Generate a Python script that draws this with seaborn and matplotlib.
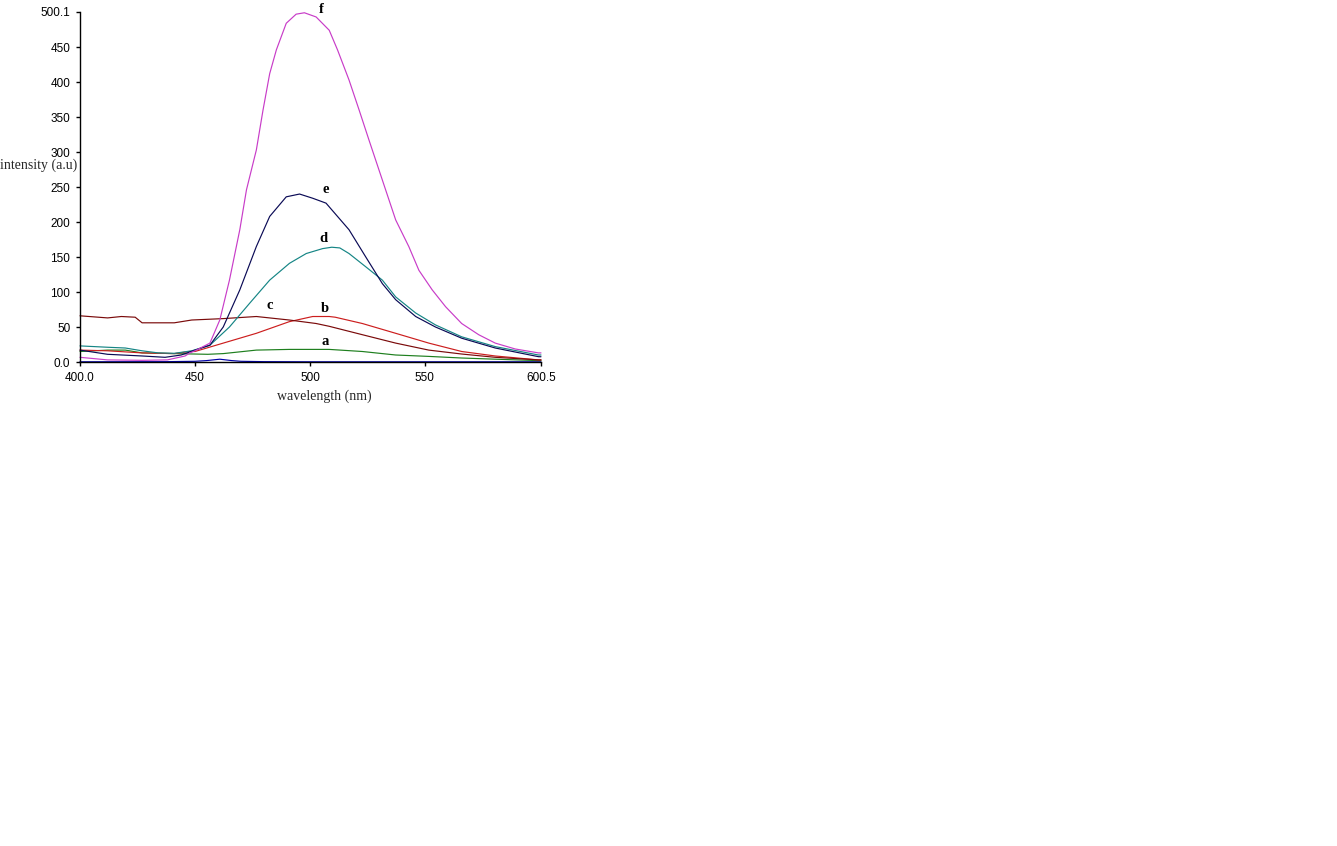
import numpy as np
import pandas as pd
import matplotlib
matplotlib.use("Agg")
import matplotlib.pyplot as plt
import seaborn as sns

# ==========================================
# Spectra (wavelength nm, intensity a.u)
# ==========================================

wl_f = [400, 412, 427, 438, 445.7, 447.8, 450, 456.5, 460.8, 465, 469.5, 472.4, 476.7,
        479.6, 482.5, 485.4, 489.7, 494, 497.6, 502.7, 508.4, 512, 517, 521.4, 525.7,
        531.5, 537.3, 543, 547.4, 553.2, 559, 566, 573.4, 580.6, 589.3, 599.4, 600.5]
int_f = [6.7, 3, 2.4, 3, 8.6, 13, 16, 27, 60, 117, 189, 246, 303,
         360, 412, 446, 484, 497, 499, 493, 474, 446, 403, 360, 317,
         260, 203, 165, 131, 103, 79, 55, 39, 27, 18.6, 13, 13]

wl_e = [400, 412, 427, 437, 444, 450, 456.5, 462.3, 469.5, 476.7, 482.5, 489.7, 495.5,
        501.2, 507, 512, 517, 524.3, 531.5, 537.3, 546, 554.6, 566, 580.6, 599.4, 600.5]
int_e = [17, 11, 8.6, 6.7, 10, 17, 24, 50, 103, 165, 208, 236, 240,
         234, 227, 208, 189, 150, 112, 89, 65, 50, 34, 20, 7.6, 7.5]

wl_d = [400, 412.5, 419.7, 427, 434, 441, 448.6, 456.5, 465, 473.8, 482.5, 491.1, 498.4,
        505.5, 509.5, 513, 517, 524.3, 531.5, 537.3, 546, 554.6, 566, 580.6, 599.4, 600.5]
int_d = [23, 21, 20, 16, 13, 12.4, 16, 24, 50, 84, 117, 141, 155,
         162, 164, 163, 155, 136, 117, 93, 70, 53, 36, 22, 10, 10]

wl_c = [400, 412, 418, 424, 427, 441, 448.6, 462.3, 476.7, 491, 502.7, 508.4, 512,
        522.8, 537.3, 551.7, 566, 580.6, 599.4, 600.5]
int_c = [66, 63, 65, 64, 56, 56, 60, 62, 65, 60, 55, 51, 48,
         39, 27, 17, 11.4, 6.7, 3, 3]

wl_b = [400, 412, 427, 441, 447.8, 450, 462.3, 476.7, 491, 501.2, 508.4, 511, 522.8,
        537.3, 551.7, 566, 580.6, 599.4, 600.5]
int_b = [17, 16, 13, 12, 15, 15, 27, 41, 57.6, 65, 65, 64, 55,
         41, 27, 15, 8.6, 3, 3]

wl_a = [400, 412, 419.7, 427, 441, 455.6, 462.3, 476.7, 491, 508.4, 522.8, 537.3,
        551.7, 566, 580.6, 599.4, 600.5]
int_a = [15, 17, 17, 13, 12, 11, 12, 17, 18, 18, 15, 10,
         8, 5.7, 4, 2, 2]

wl_blank = [400, 438, 450, 455, 460.8, 466, 470, 480, 500, 550, 600.5]
int_blank = [0.3, 0.5, 1, 2, 4, 2, 1, 0.5, 0.3, 0.3, 0.3]

curve_names = ["blank", "a", "b", "c", "d", "e", "f"]
curve_colors = ["#0000A8", "#1E7F1E", "#CC1E1E", "#7A0A0A", "#158585", "#0A0A55", "#C83CC8"]

# labels next to the curves
label_text = ["f", "e", "d", "c", "b", "a"]
label_wl = [505, 506.7, 506, 482.5, 506.7, 506.7]
label_int = [503, 246, 177, 81, 76, 30]

# ==========================================
# Long form table for seaborn
# ==========================================

frames = []
for name, wl, it in [("blank", wl_blank, int_blank), ("a", wl_a, int_a), ("b", wl_b, int_b),
                     ("c", wl_c, int_c), ("d", wl_d, int_d), ("e", wl_e, int_e),
                     ("f", wl_f, int_f)]:
    frames.append(pd.DataFrame({"wavelength": wl, "intensity": it, "sample": name}))
df = pd.concat(frames, ignore_index=True)

# ==========================================
# Plot
# ==========================================

sns.set_style("white")
plt.rcParams["font.family"] = ["Liberation Sans", "DejaVu Sans"]

fig = plt.figure(figsize=(13.37, 8.46), dpi=100)
ax = fig.add_axes([80 / 1337, 1 - 362 / 846, 461 / 1337, 350 / 846])

sns.lineplot(
    data=df,
    x="wavelength",
    y="intensity",
    hue="sample",
    hue_order=curve_names,
    palette=dict(zip(curve_names, curve_colors)),
    linewidth=0.85,
    legend=False,
    estimator=None,
    sort=True,
    ax=ax,
)
for line in ax.get_lines():
    line.set_clip_on(False)

for t, x, y in zip(label_text, label_wl, label_int):
    ax.text(x, y, t, fontsize=10.5, fontweight="bold", family="Liberation Serif",
            ha="center", va="center", color="black")

ax.set_xlim(400, 600.5)
ax.set_ylim(0, 500.1)
ax.set_xticks([400, 450, 500, 550, 600.5])
ax.set_xticklabels(["400.0", "450", "500", "550", "600.5"])
ax.set_yticks([0, 50, 100, 150, 200, 250, 300, 350, 400, 450, 500.1])
ax.set_yticklabels(["0.0", "50", "100", "150", "200", "250", "300", "350", "400", "450", "500.1"])
ax.tick_params(axis="both", direction="out", length=3, width=1, labelsize=8.5,
               colors="black", left=True, bottom=True, pad=4)
ax.set_xlabel("")
ax.set_ylabel("")

sns.despine(ax=ax)
for s in ["left", "bottom"]:
    ax.spines[s].set_color("black")
    ax.spines[s].set_linewidth(1)

fig.text(324 / 1337, 1 - 396 / 846, "wavelength (nm)", family="Liberation Serif",
         fontsize=10, ha="center", va="center")
fig.text(0, 1 - 165 / 846, "intensity (a.u)", family="Liberation Serif",
         fontsize=10, ha="left", va="center")

fig.savefig("out.png", dpi=100, facecolor="white")
